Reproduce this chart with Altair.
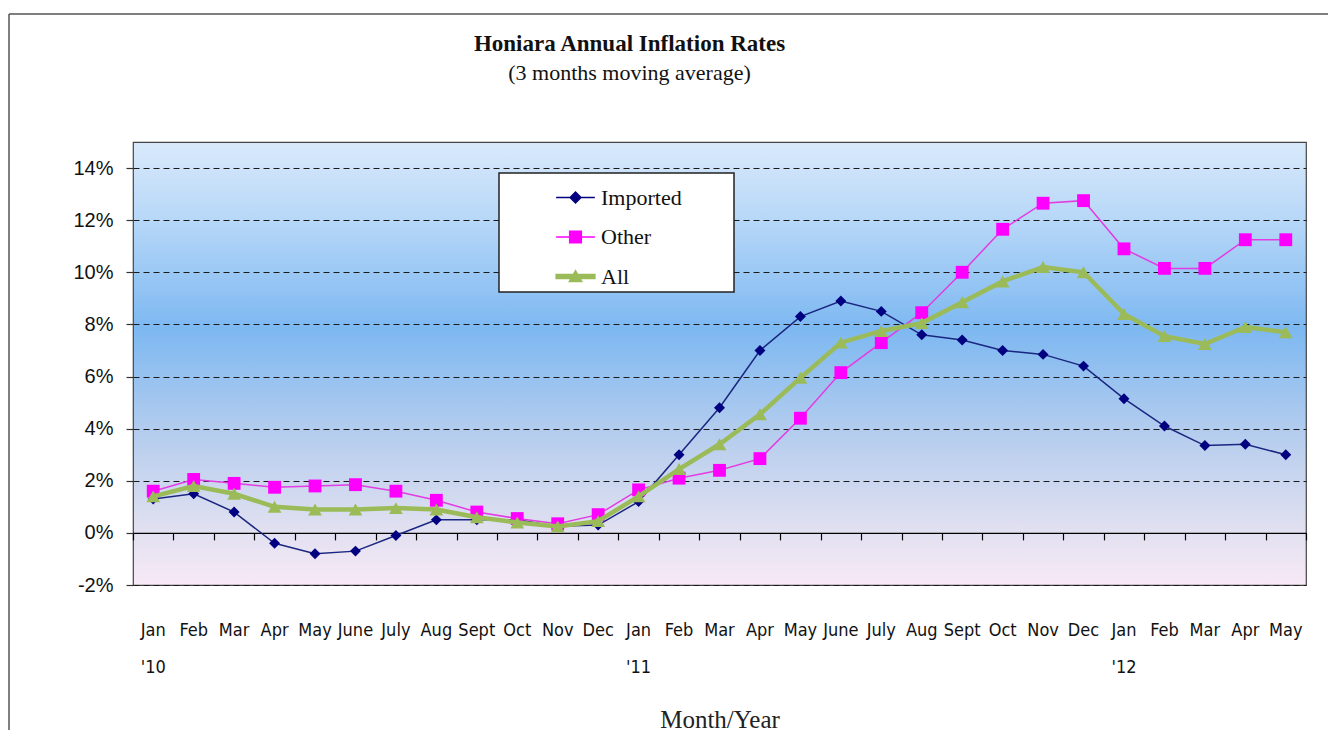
import json
import altair as alt
import pandas as pd

# ---------------- data ----------------
month_labels = ["Jan", "Feb", "Mar", "Apr", "May", "June", "July", "Aug", "Sept", "Oct", "Nov", "Dec",
                "Jan", "Feb", "Mar", "Apr", "May", "June", "July", "Aug", "Sept", "Oct", "Nov", "Dec",
                "Jan", "Feb", "Mar", "Apr", "May"]
year_labels = ["'10", "", "", "", "", "", "", "", "", "", "", "",
               "'11", "", "", "", "", "", "", "", "", "", "", "",
               "'12", "", "", "", ""]

imported = [1.3, 1.5, 0.8, -0.4, -0.8, -0.7, -0.1, 0.5, 0.5, 0.5, 0.25, 0.3,
            1.2, 3.0, 4.8, 7.0, 8.3, 8.9, 8.5, 7.6, 7.4, 7.0, 6.85, 6.4,
            5.15, 4.1, 3.35, 3.4, 3.0]
other = [1.6, 2.05, 1.9, 1.75, 1.8, 1.85, 1.6, 1.25, 0.8, 0.55, 0.35, 0.7,
         1.65, 2.1, 2.4, 2.85, 4.4, 6.15, 7.3, 8.45, 10.0, 11.65, 12.65, 12.75,
         10.9, 10.15, 10.15, 11.25, 11.25]
all_items = [1.4, 1.8, 1.5, 1.0, 0.9, 0.9, 0.95, 0.9, 0.6, 0.4, 0.25, 0.45,
             1.4, 2.45, 3.4, 4.55, 5.95, 7.3, 7.75, 8.05, 8.85, 9.65, 10.2, 10.0,
             8.4, 7.55, 7.25, 7.9, 7.7]

series_names = ["Imported", "Other", "All"]
y_ticks = [-2, 0, 2, 4, 6, 8, 10, 12, 14]

# ---------------- styling ----------------
W, H = 1173, 443
YMIN, YMAX = -2, 15
line_colors = {"Imported": "#1a2680", "Other": "#e23ce2", "All": "#9bbb59"}
marker_colors = {"Imported": "#000080", "Other": "#ff00ff", "All": "#9bbb59"}
line_widths = {"Imported": 1.5, "Other": 1.5, "All": 4.5}
marker_shapes = {"Imported": "diamond", "Other": "square", "All": "triangle-up"}
marker_sizes = {"Imported": 120, "Other": 165, "All": 190}
legend_paths = [
    "M-1,0H1M-0.28,0L0,-0.28L0.28,0L0,0.28Z",
    "M-1,0H1M-0.3,-0.3H0.3V0.3H-0.3Z",
    "M-1,-0.1H1V0.1H-1ZM-0.32,0.26L0,-0.3L0.32,0.26Z",
]

rows = []
for name, vals in zip(series_names, [imported, other, all_items]):
    for i, v in enumerate(vals):
        rows.append({"idx": i, "series": name, "value": v})
df = pd.DataFrame(rows)

label_pairs = [[m, y] for m, y in zip(month_labels, year_labels)]
x_scale = alt.Scale(type="band", paddingInner=0, paddingOuter=0)
y_scale = alt.Scale(domain=[YMIN, YMAX], nice=False, zero=False)

y_axis = alt.Axis(values=y_ticks, labelExpr="datum.value + '%'", domain=False,
                  tickSize=7, tickColor="#333", tickWidth=1.2, labelPadding=13,
                  labelFont="Liberation Sans", labelFontSize=20, labelColor="#111",
                  grid=True, gridDash=[6, 4], gridColor="#1a1a1a", gridWidth=1.2,
                  title=None)
y_enc = alt.Y("value:Q", scale=y_scale, axis=y_axis)

label_axis = alt.Axis(orient="bottom", labelExpr=f"{json.dumps(label_pairs)}[datum.value]",
                      labelAngle=0, domain=False, ticks=False, tickSize=0, labelPadding=36,
                      labelFont="DejaVu Sans Condensed, Liberation Sans Narrow, Liberation Sans",
                      labelFontSize=18,
                      labelLineHeight=37, labelColor="#111", labelOverlap=False, labelBound=False,
                      title="Month/Year", titleFont="Liberation Serif", titleFontSize=25,
                      titleFontWeight="normal", titlePadding=31, titleColor="#222", grid=False)
zero_axis = alt.Axis(orient="bottom", offset=-H * (0 - YMIN) / (YMAX - YMIN), labels=False,
                     domain=True, domainColor="#000", domainWidth=1.3, ticks=True, tickSize=7,
                     tickColor="#000", tickWidth=1.2, tickBand="extent", title=None, grid=False)

layers = []

# frame (decorative border of the chart area)
frame_df = pd.DataFrame({"a": [0]})
layers.append(alt.Chart(frame_df).mark_rule(color="#555", strokeWidth=1.5).encode(
    x=alt.value(-124), x2=alt.value(W + 22), y=alt.value(-128)))
layers.append(alt.Chart(frame_df).mark_rule(color="#555", strokeWidth=1.5).encode(
    x=alt.value(-124), y=alt.value(-128), y2=alt.value(588)))

for k, name in enumerate(series_names):
    sub = alt.Chart(df).transform_filter(alt.datum.series == name)
    if k == 0:
        xa = label_axis
    elif k == 1:
        xa = zero_axis
    else:
        xa = None
    layers.append(sub.mark_line(color=line_colors[name], strokeWidth=line_widths[name]).encode(
        x=alt.X("idx:O", scale=x_scale, axis=xa), y=y_enc))
    layers.append(sub.mark_point(shape=marker_shapes[name], filled=True, opacity=1,
                                 size=marker_sizes[name], color=marker_colors[name]).encode(
        x=alt.X("idx:O", scale=x_scale, axis=None), y=y_enc))

pad_chars = "\u2800" * 3
legend_def = alt.Legend(title=None, orient="none", legendX=366, legendY=31,
                        symbolSize=1500, symbolOffset=52, labelOffset=5, padding=4,
                        rowPadding=7.5, labelFont="Liberation Serif", labelFontSize=22,
                        labelColor="#111", fillColor="white", strokeColor="#222",
                        symbolOpacity=1, symbolStrokeWidth=1.5, labelLimit=400,
                        labelExpr=f"datum.label + '{pad_chars}'")
color_range = [marker_colors[n] for n in series_names]
legend_layer = alt.Chart(df).transform_filter("false").mark_point(filled=True, size=1500).encode(
    x=alt.X("idx:O", scale=x_scale, axis=None),
    y=y_enc,
    fill=alt.Fill("series:N", scale=alt.Scale(domain=series_names, range=color_range), legend=legend_def),
    stroke=alt.Stroke("series:N", scale=alt.Scale(domain=series_names, range=color_range), legend=legend_def),
    shape=alt.Shape("series:N", scale=alt.Scale(domain=series_names, range=legend_paths), legend=legend_def),
)
layers.append(legend_layer)

grad_expr = ("{gradient: 'linear', x1: 0, y1: 0, x2: 0, y2: 1, stops: ["
             "{offset: 0, color: '#d9e9fb'}, {offset: 0.18, color: '#b6d7f8'}, "
             "{offset: 0.42, color: '#7db8f1'}, {offset: 0.66, color: '#b5cdee'}, "
             "{offset: 0.86, color: '#dedff0'}, {offset: 1, color: '#f8e9f6'}]}")

chart = alt.layer(*layers).resolve_axis(x="independent").properties(
    width=W, height=H,
    padding={"left": 0, "top": 5, "right": 0, "bottom": 0},
    background="white",
    view=alt.ViewBackground(fill=alt.ExprRef(expr=grad_expr), stroke="#444", strokeWidth=1.2),
    title=alt.Title(text="Honiara Annual Inflation Rates", subtitle="(3 months moving average)",
                    font="Liberation Serif", fontSize=23, fontWeight="bold", color="#111",
                    subtitleFont="Liberation Serif", subtitleFontSize=22, subtitleColor="#111",
                    subtitlePadding=7, anchor="middle", frame="group", dx=-90, offset=-71),
).configure_legend(strokeWidth=1.5)

chart.save("out.html", embed_options={"renderer": "svg", "actions": False})
